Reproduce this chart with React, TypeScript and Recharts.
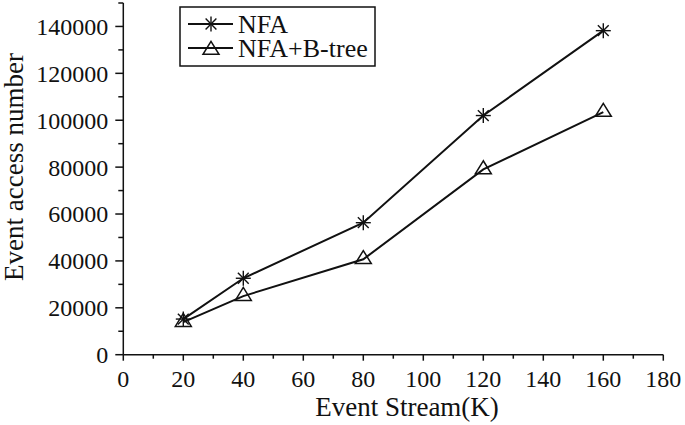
import { LineChart, Line, XAxis, YAxis } from 'recharts'

const streams = [20, 40, 80, 120, 160]
const nfa = [15200, 32600, 56300, 102000, 138200]
const nfaBtree = [13900, 25000, 40700, 79000, 103500]

const xTicks = [0, 10, 20, 30, 40, 50, 60, 70, 80, 90, 100, 110, 120, 130, 140, 150, 160, 170, 180]
const yTicks = [0, 10000, 20000, 30000, 40000, 50000, 60000, 70000, 80000, 90000, 100000, 110000, 120000, 130000, 140000, 150000]

const data = streams.map((s, i) => ({ stream: s, nfa: nfa[i], btree: nfaBtree[i] }))

const FONT = '"Liberation Serif", "Times New Roman", serif'
const INK = '#111'

function Star({ cx, cy }: any) {
  const r = 7.5
  const d = r * 0.72
  return (
    <g stroke={INK} strokeWidth={1.4}>
      <line x1={cx} y1={cy - r} x2={cx} y2={cy + r} />
      <line x1={cx - r} y1={cy} x2={cx + r} y2={cy} />
      <line x1={cx - d} y1={cy - d} x2={cx + d} y2={cy + d} />
      <line x1={cx - d} y1={cy + d} x2={cx + d} y2={cy - d} />
    </g>
  )
}

function Triangle({ cx, cy }: any) {
  const w = 16
  const h = 13
  const pts = `${cx},${cy - (h * 2) / 3} ${cx - w / 2},${cy + h / 3} ${cx + w / 2},${cy + h / 3}`
  return <polygon points={pts} fill="#fff" fillOpacity={0} stroke={INK} strokeWidth={1.5} />
}

function YTick({ x, y, payload }: any) {
  const v = payload.value as number
  const major = v % 20000 === 0 && v <= 140000
  return (
    <g>
      <line x1={x - (major ? 8 : 5)} y1={y} x2={x} y2={y} stroke={INK} strokeWidth={1.5} />
      {major && (
        <text x={x - 15} y={y} dy="0.35em" textAnchor="end" style={{ fontFamily: FONT, fontSize: 24 }} fill={INK}>
          {v}
        </text>
      )}
    </g>
  )
}

function XTick({ x, y, payload }: any) {
  const v = payload.value as number
  const major = v % 20 === 0
  return (
    <g>
      <line x1={x} y1={y} x2={x} y2={y + (major ? 6 : 4)} stroke={INK} strokeWidth={1.5} />
      {major && (
        <text x={x} y={y + 32} textAnchor="middle" style={{ fontFamily: FONT, fontSize: 24 }} fill={INK}>
          {v}
        </text>
      )}
    </g>
  )
}

// legend drawn straight into the chart svg, so it takes no room from the plot
function LegendBox({ x, y }: { x: number; y: number }) {
  const rows = [
    { name: 'NFA', Mark: Star, dy: 0 },
    { name: 'NFA+B-tree', Mark: Triangle, dy: 2 },
  ]
  return (
    <g>
      <rect x={x} y={y} width={195} height={59} fill="#fff" stroke={INK} strokeWidth={1.5} />
      {rows.map((r, i) => {
        const cy = y + 17 + i * 24
        return (
          <g key={r.name}>
            <line x1={x + 8} y1={cy} x2={x + 53} y2={cy} stroke={INK} strokeWidth={2} />
            <r.Mark cx={x + 31} cy={cy + r.dy} />
            <text x={x + 58} y={cy + 9} style={{ fontFamily: FONT, fontSize: 26 }} fill={INK}>
              {r.name}
            </text>
          </g>
        )
      })}
    </g>
  )
}

export default function App() {
  return (
    <div style={{ position: 'absolute', left: 0, top: 0, background: '#fff' }}>
      <LineChart width={685} height={425} data={data} margin={{ top: 3, right: 21.7, left: 0, bottom: 0 }}>
        <XAxis
          dataKey="stream"
          type="number"
          domain={[0, 180]}
          ticks={xTicks}
          interval={0}
          height={70.3}
          tickSize={0}
          tickMargin={0}
          tickLine={false}
          axisLine={{ stroke: INK, strokeWidth: 1.5 }}
          tick={XTick}
        />
        <YAxis
          type="number"
          domain={[0, 150000]}
          ticks={yTicks}
          interval={0}
          width={123.3}
          tickSize={0}
          tickMargin={0}
          tickLine={false}
          axisLine={{ stroke: INK, strokeWidth: 1.5 }}
          tick={YTick}
        />
        <Line
          dataKey="nfa"
          name="NFA"
          type="linear"
          stroke={INK}
          strokeWidth={2}
          dot={<Star />}
          activeDot={false}
          isAnimationActive={false}
        />
        <Line
          dataKey="btree"
          name="NFA+B-tree"
          type="linear"
          stroke={INK}
          strokeWidth={2}
          dot={<Triangle />}
          activeDot={false}
          isAnimationActive={false}
        />
        <LegendBox x={180} y={7} />
        <text x={23} y={167} transform="rotate(-90, 23, 167)" textAnchor="middle" style={{ fontFamily: FONT, fontSize: 27 }} fill={INK}>
          Event access number
        </text>
        <text x={407} y={415.7} textAnchor="middle" style={{ fontFamily: FONT, fontSize: 27 }} fill={INK}>
          Event Stream(K)
        </text>
      </LineChart>
    </div>
  )
}
